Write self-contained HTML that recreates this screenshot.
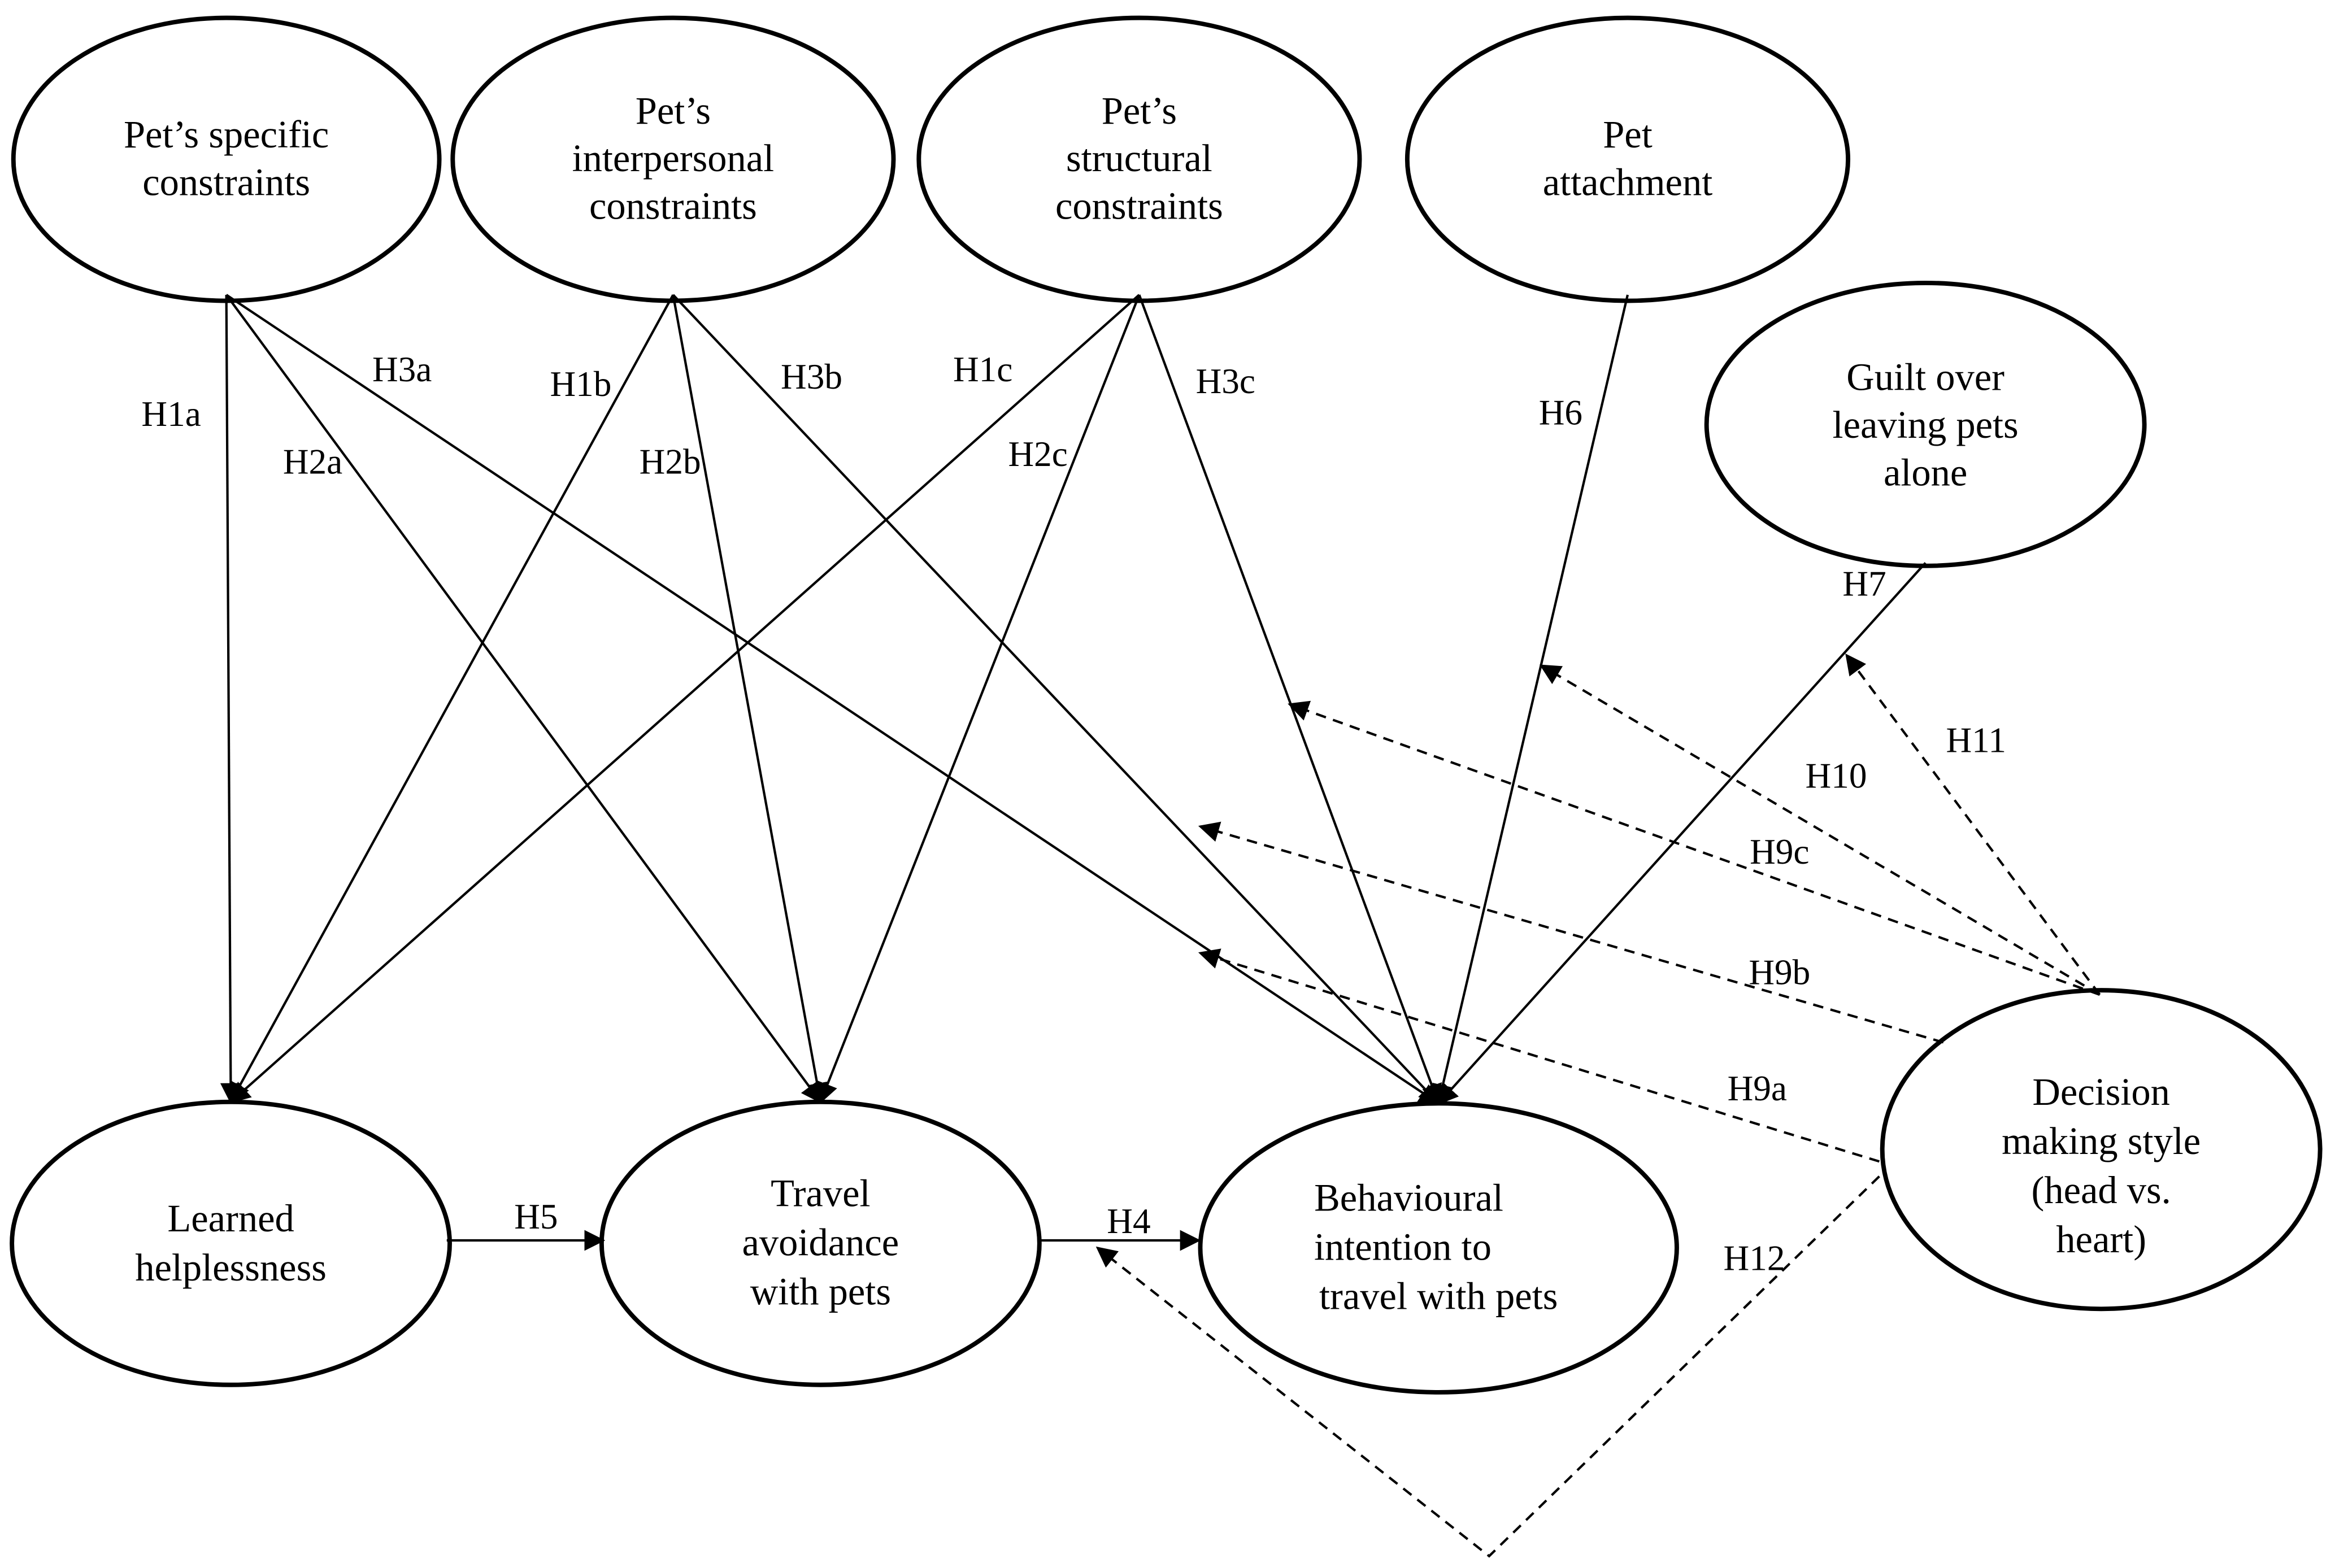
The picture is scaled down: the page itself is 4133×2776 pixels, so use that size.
<!DOCTYPE html>
<html><head><meta charset="utf-8"><style>
html,body{margin:0;padding:0;background:#fff;}
svg{display:block;}
text{font-family:"Liberation Serif",serif;fill:#000;}
.n{font-size:26px;text-anchor:middle;}
.l{font-size:24px;text-anchor:middle;}
</style></head><body>
<svg width="4133" height="2776" viewBox="0 0 1568 1053" preserveAspectRatio="none" xmlns="http://www.w3.org/2000/svg">
<defs>
<marker id="b" viewBox="0 0 10 10" refX="9" refY="5" markerWidth="14" markerHeight="14" orient="auto" markerUnits="userSpaceOnUse"><path d="M0,0L10,5L0,10z" fill="#000"/></marker>
</defs>
<g fill="none" stroke="#000" stroke-width="3">
<ellipse cx="152" cy="107" rx="143" ry="95"/>
<ellipse cx="452" cy="107" rx="148" ry="95"/>
<ellipse cx="765" cy="107" rx="148" ry="95"/>
<ellipse cx="1093" cy="107" rx="148" ry="95"/>
<ellipse cx="1293" cy="285" rx="147" ry="95"/>
<ellipse cx="155" cy="835" rx="147" ry="95"/>
<ellipse cx="551" cy="835" rx="147" ry="95"/>
<ellipse cx="966" cy="838" rx="160" ry="97"/>
<ellipse cx="1411" cy="772" rx="147" ry="107"/>
</g>
<g stroke="#000" stroke-width="1.6" fill="none">
<line x1="152" y1="198" x2="155" y2="740" marker-end="url(#b)"/>
<line x1="152" y1="198" x2="551" y2="740" marker-end="url(#b)"/>
<line x1="152" y1="198" x2="966" y2="741" marker-end="url(#b)"/>
<line x1="452" y1="198" x2="155" y2="740" marker-end="url(#b)"/>
<line x1="452" y1="198" x2="551" y2="740" marker-end="url(#b)"/>
<line x1="452" y1="198" x2="966" y2="741" marker-end="url(#b)"/>
<line x1="765" y1="198" x2="155" y2="740" marker-end="url(#b)"/>
<line x1="765" y1="198" x2="551" y2="740" marker-end="url(#b)"/>
<line x1="765" y1="198" x2="966" y2="741" marker-end="url(#b)"/>
<line x1="1093" y1="198" x2="966" y2="741" marker-end="url(#b)"/>
<line x1="1293" y1="378" x2="966" y2="741" marker-end="url(#b)"/>
<line x1="300" y1="833" x2="405" y2="833" marker-end="url(#b)"/>
<line x1="697" y1="833" x2="805" y2="833" marker-end="url(#b)"/>
</g>
<g stroke="#000" stroke-width="1.6" fill="none" stroke-dasharray="7,5">
<line x1="1410" y1="668" x2="1240" y2="440" marker-end="url(#b)"/>
<line x1="1410" y1="668" x2="1035" y2="447" marker-end="url(#b)"/>
<line x1="1410" y1="668" x2="866" y2="473" marker-end="url(#b)"/>
<line x1="1305" y1="700" x2="806" y2="555" marker-end="url(#b)"/>
<line x1="1262" y1="780" x2="806" y2="640" marker-end="url(#b)"/>
<polyline points="1262,790 1000,1045 737,838" marker-end="url(#b)"/>
</g>
<g class="n">
<text x="152" y="99">Pet’s specific</text><text x="152" y="131">constraints</text>
<text x="452" y="83">Pet’s</text><text x="452" y="115">interpersonal</text><text x="452" y="147">constraints</text>
<text x="765" y="83">Pet’s</text><text x="765" y="115">structural</text><text x="765" y="147">constraints</text>
<text x="1093" y="99">Pet</text><text x="1093" y="131">attachment</text>
<text x="1293" y="262">Guilt over</text><text x="1293" y="294">leaving pets</text><text x="1293" y="326">alone</text>
<text x="155" y="827">Learned</text><text x="155" y="860">helplessness</text>
<text x="551" y="810">Travel</text><text x="551" y="843">avoidance</text><text x="551" y="876">with pets</text>
<text x="946" y="813">Behavioural</text><text x="942" y="846">intention to</text><text x="966" y="879">travel with pets</text>
<text x="1411" y="742">Decision</text><text x="1411" y="775">making style</text><text x="1411" y="808">(head vs.</text><text x="1411" y="841">heart)</text>
</g>
<g class="l">
<text x="115" y="286">H1a</text><text x="270" y="256">H3a</text><text x="210" y="318">H2a</text>
<text x="390" y="266">H1b</text><text x="545" y="261">H3b</text><text x="450" y="318">H2b</text>
<text x="660" y="256">H1c</text><text x="697" y="313">H2c</text><text x="823" y="264">H3c</text>
<text x="1048" y="285">H6</text><text x="1252" y="400">H7</text>
<text x="1327" y="505">H11</text><text x="1233" y="529">H10</text>
<text x="1195" y="580">H9c</text><text x="1195" y="661">H9b</text><text x="1180" y="739">H9a</text>
<text x="1178" y="853">H12</text><text x="360" y="825">H5</text><text x="758" y="828">H4</text>
</g>
</svg>
</body></html>
